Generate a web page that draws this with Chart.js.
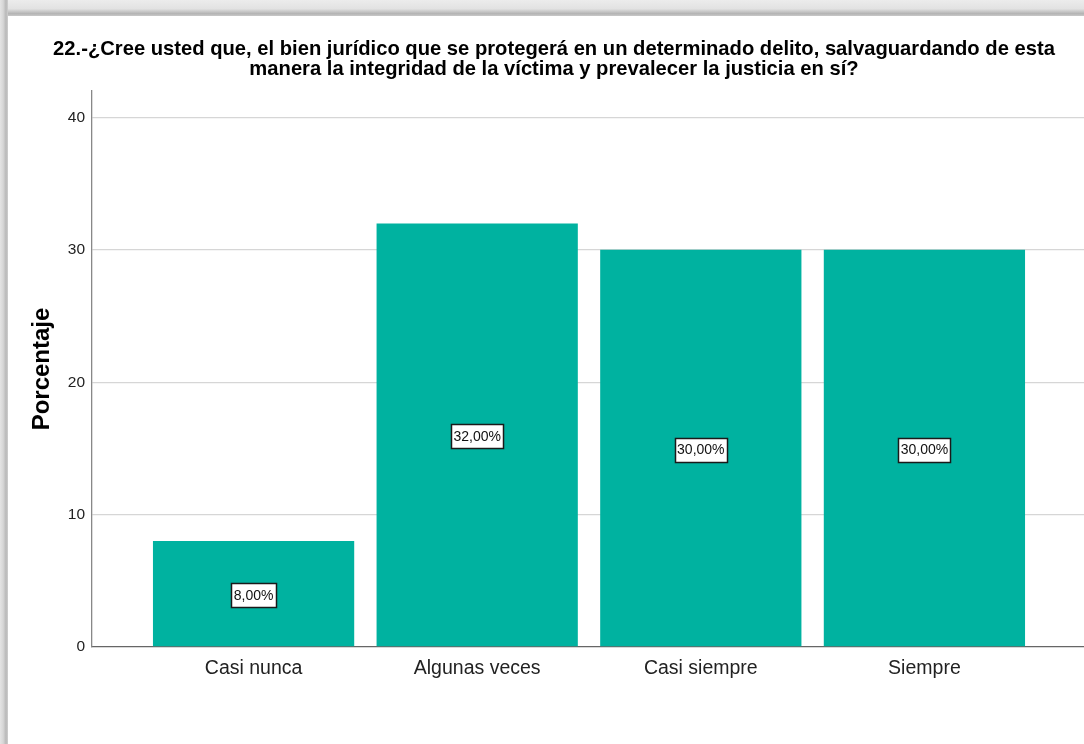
<!DOCTYPE html>
<html>
<head>
<meta charset="utf-8">
<script src="https://cdn.jsdelivr.net/npm/chart.js@4/dist/chart.umd.min.js"></script>
<style>
  html, body { margin: 0; padding: 0; background: #fff; overflow: hidden; }
  #frameTop { position: absolute; left: 0; top: 0; width: 1084px; height: 16px;
    background: linear-gradient(#ececec, #e2e2e2 55%, #b4b4b4 85%, #c8c8c8); }
  #frameLeft { position: absolute; left: 0; top: 0; width: 8px; height: 744px;
    background: linear-gradient(90deg, #e4e4e4, #d6d6d6 40%, #b8b8b8 75%, #cfcfcf); }
  #wrap { position: absolute; left: 0; top: 0; width: 1094px; height: 744px; }
</style>
</head>
<body>
<div id="frameTop"></div>
<div id="frameLeft"></div>
<div id="wrap"><canvas id="bar-chart"></canvas></div>
<script>
// data
var categories = ["Casi nunca", "Algunas veces", "Casi siempre", "Siempre"];
var porcentajes = [8, 32, 30, 30];
var yTicks = [0, 10, 20, 30, 40];
var titleLines = [
  "22.-¿Cree usted que, el bien jurídico que se protegerá en un determinado delito, salvaguardando de esta",
  "manera la integridad de la víctima y prevalecer la justicia en sí?"
];

var font = "'Liberation Sans', Arial, sans-serif";

// white boxes with the percent in the middle of each bar
var boxLabels = {
  id: 'boxLabels',
  afterDatasetsDraw: function(chart) {
    var ctx = chart.ctx;
    var meta = chart.getDatasetMeta(0);
    ctx.save();
    ctx.font = "14px " + font;
    ctx.textAlign = 'center';
    ctx.textBaseline = 'middle';
    meta.data.forEach(function(bar, i) {
      var txt = porcentajes[i].toFixed(2).replace('.', ',') + '%';
      var cy = (bar.y + bar.base) / 2 + 1.5;
      var w = Math.round(ctx.measureText(txt).width + 5);
      var h = 24;
      var bx = Math.round(bar.x - w / 2), by = Math.round(cy - h / 2);
      ctx.fillStyle = '#fff';
      ctx.fillRect(bx, by, w, h);
      ctx.strokeStyle = '#1a1a1a';
      ctx.lineWidth = 1.5;
      ctx.strokeRect(bx + 0.5, by + 0.5, w, h);
      ctx.fillStyle = '#111';
      ctx.fillText(txt, bar.x, cy + 1);
    });
    ctx.restore();
  }
};

new Chart(document.getElementById("bar-chart"), {
  type: 'bar',
  data: {
    datasets: [{
      label: "Porcentaje",
      backgroundColor: '#00b2a0',
      data: porcentajes.map(function(v, i) { return { x: i, y: v }; }),
      barPercentage: 0.9,
      categoryPercentage: 1
    }]
  },
  plugins: [boxLabels],
  options: {
    responsive: true,
    maintainAspectRatio: false,
    animation: false,
    layout: { padding: { left: 22, right: 8, top: 0, bottom: 0 } },
    plugins: {
      legend: { display: false },
      tooltip: { enabled: false },
      title: {
        display: true,
        text: titleLines,
        color: '#000',
        font: { family: font, size: 20.2, weight: 'bold', lineHeight: 20 / 20.2 },
        padding: { top: 39, bottom: 12 }
      }
    },
    scales: {
      x: {
        type: 'linear',
        offset: false,
        min: -0.7226,
        max: 3.7226,
        afterBuildTicks: function(scale) {
          scale.ticks = categories.map(function(c, i) { return { value: i }; });
        },
        afterFit: function(scale) { scale.height = 97; },
        ticks: {
          color: '#222',
          font: { family: font, size: 19.5 },
          padding: 10,
          autoSkip: false,
          maxRotation: 0,
          callback: function(v) { return categories[v]; }
        },
        grid: { display: false, drawTicks: false },
        border: { display: true, color: '#666', width: 1.3 }
      },
      y: {
        min: 0,
        max: 42,
        afterBuildTicks: function(scale) {
          scale.ticks = yTicks.map(function(v) { return { value: v }; });
        },
        afterFit: function(scale) { scale.width = 70; },
        ticks: {
          color: '#222',
          font: { family: font, size: 15.5 },
          padding: 7
        },
        grid: {
          drawTicks: false,
          color: function(c) { return c.tick && c.tick.value === 0 ? 'rgba(0,0,0,0)' : '#d6d6d6'; },
          lineWidth: 1.3
        },
        border: { display: true, color: '#888', width: 1.3 },
        title: {
          display: true,
          text: 'Porcentaje',
          color: '#000',
          font: { family: font, size: 24, weight: 'bold' },
          padding: { top: 6, bottom: 0 }
        }
      }
    }
  }
});
</script>
</body>
</html>
